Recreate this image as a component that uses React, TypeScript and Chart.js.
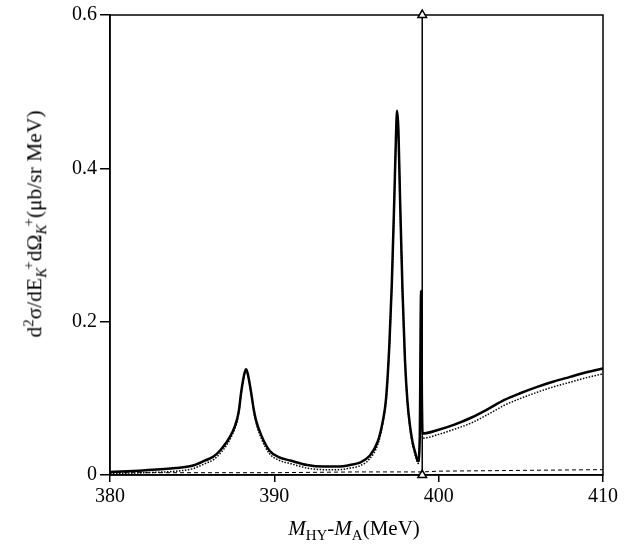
import React, { useEffect, useRef } from "react";
import { Chart, registerables } from "chart.js";

Chart.register(...registerables);

// Solid curve (full calculation)
const solidX = [380, 382, 384, 385, 385.8, 386.3, 386.7, 387.1, 387.45, 387.71, 387.85, 387.97, 388.1, 388.2, 388.28, 388.36, 388.46, 388.6, 388.75, 388.89, 389.2, 389.7, 390.3, 390.96, 392, 393, 394, 394.6, 395.2, 395.8, 396.3, 396.6, 396.8, 397.0, 397.15, 397.3, 397.4, 397.47, 397.55, 397.65, 397.8, 397.95, 398.1, 398.25, 398.4, 398.6, 398.75, 398.85, 398.93, 398.98, 399.02, 400, 401, 402, 403, 404, 405, 406, 407, 408, 409, 410];
const solidY = [0.004, 0.006, 0.009, 0.012, 0.019, 0.024, 0.032, 0.043, 0.056, 0.071, 0.085, 0.106, 0.124, 0.134, 0.138, 0.134, 0.124, 0.106, 0.085, 0.071, 0.052, 0.032, 0.023, 0.019, 0.013, 0.011, 0.011, 0.013, 0.016, 0.025, 0.044, 0.070, 0.100, 0.170, 0.250, 0.360, 0.440, 0.475, 0.450, 0.360, 0.240, 0.150, 0.096, 0.065, 0.044, 0.027, 0.018, 0.050, 0.240, 0.100, 0.054, 0.059, 0.066, 0.075, 0.086, 0.098, 0.107, 0.115, 0.122, 0.128, 0.134, 0.139];

// Dotted curve
const dottedX = [380, 382, 384, 385, 385.8, 386.3, 386.7, 387.1, 387.45, 387.71, 387.85, 387.97, 388.1, 388.2, 388.28, 388.36, 388.46, 388.6, 388.75, 388.89, 389.2, 389.7, 390.3, 390.96, 392, 393, 394, 394.6, 395.2, 395.8, 396.3, 396.6, 396.8, 397.0, 397.15, 397.3, 397.4, 397.47, 397.55, 397.65, 397.8, 397.95, 398.1, 398.25, 398.4, 398.6, 398.75, 398.85, 398.93, 398.98, 399.02, 400, 401, 402, 403, 404, 405, 406, 407, 408, 409, 410];
const dottedY = [0.002, 0.003, 0.005, 0.008, 0.015, 0.020, 0.028, 0.039, 0.053, 0.068, 0.083, 0.104, 0.122, 0.133, 0.137, 0.133, 0.122, 0.104, 0.083, 0.068, 0.048, 0.028, 0.019, 0.015, 0.009, 0.007, 0.007, 0.009, 0.012, 0.021, 0.040, 0.067, 0.097, 0.167, 0.247, 0.357, 0.437, 0.472, 0.447, 0.357, 0.237, 0.147, 0.093, 0.062, 0.041, 0.024, 0.015, 0.045, 0.230, 0.095, 0.048, 0.053, 0.060, 0.068, 0.079, 0.091, 0.100, 0.108, 0.115, 0.121, 0.127, 0.132];

// Dashed curve (background)
const dashedX = [380, 385, 390, 395, 399, 400, 405, 410];
const dashedY = [0.003, 0.003, 0.003, 0.004, 0.004, 0.005, 0.006, 0.007];

// Threshold marker
const thresholdX = [399, 399];
const thresholdY = [0, 0.6];

// Axis ticks
const xMin = 380;
const xMax = 410;
const xStep = 10;
const yMin = 0;
const yMax = 0.6;
const yStep = 0.2;

const zip = (xs: number[], ys: number[]) => xs.map((x, i) => ({ x, y: ys[i] }));

const framePlugin = {
  id: "frame",
  beforeDatasetsDraw(chart: any) {
    const { ctx, chartArea } = chart;
    ctx.save();
    ctx.strokeStyle = "#000";
    ctx.lineWidth = 1.5;
    ctx.strokeRect(chartArea.left, chartArea.top, chartArea.right - chartArea.left, chartArea.bottom - chartArea.top);
    ctx.restore();
  },
};

export default function App() {
  const ref = useRef<HTMLCanvasElement | null>(null);

  useEffect(() => {
    if (!ref.current) return;
    const font = { family: "'Liberation Serif', serif", size: 20 };
    const chart = new Chart(ref.current, {
      type: "line",
      data: {
        datasets: [
          {
            data: zip(dashedX, dashedY),
            borderColor: "#000",
            borderWidth: 1,
            borderDash: [4, 3],
            pointRadius: 0,
            tension: 0,
          },
          {
            data: zip(dottedX, dottedY),
            borderColor: "#000",
            borderWidth: 1.5,
            borderDash: [1.5, 1.5],
            pointRadius: 0,
            cubicInterpolationMode: "monotone",
          },
          {
            data: zip(solidX, solidY),
            borderColor: "#000",
            borderWidth: 2.5,
            pointRadius: 0,
            cubicInterpolationMode: "monotone",
          },
          {
            data: zip(thresholdX, thresholdY),
            borderColor: "#000",
            borderWidth: 1.5,
            pointStyle: "triangle",
            pointRadius: 5,
            pointBackgroundColor: "#fff",
            pointBorderColor: "#000",
            pointBorderWidth: 1.5,
            tension: 0,
            clip: false as any,
          },
        ],
      },
      options: {
        animation: false,
        responsive: true,
        maintainAspectRatio: false,
        layout: { padding: { top: 12, right: 38, left: 0, bottom: 0 } },
        plugins: { legend: { display: false }, tooltip: { enabled: false } },
        scales: {
          x: {
            type: "linear",
            min: xMin,
            max: xMax,
            ticks: { stepSize: xStep, font, color: "#000", padding: 3, maxRotation: 0 },
            grid: { drawOnChartArea: false, drawTicks: true, tickLength: 7, color: "#000", lineWidth: 1.5 },
            border: { display: true, color: "#000", width: 1.5 },
            afterFit: (s: any) => {
              s.height = 72;
            },
          },
          y: {
            type: "linear",
            min: yMin,
            max: yMax,
            ticks: { stepSize: yStep, font, color: "#000", padding: 3 },
            grid: { drawOnChartArea: false, drawTicks: true, tickLength: 10, color: "#000", lineWidth: 1.5 },
            border: { display: true, color: "#000", width: 1.5 },
            afterFit: (s: any) => {
              s.width = 110;
            },
          },
        },
      },
      plugins: [framePlugin],
    });
    return () => chart.destroy();
  }, []);

  const serif = "'Liberation Serif', 'Times New Roman', serif";

  return (
    <div style={{ position: "fixed", left: 0, top: 0, width: 641, height: 547, background: "#fff" }}>
      <canvas ref={ref} style={{ position: "absolute", left: 0, top: 0 }} />
      <div
        style={{
          position: "absolute",
          left: 35,
          top: 224,
          transform: "translate(-50%, -50%) rotate(-90deg)",
          whiteSpace: "nowrap",
          fontFamily: serif,
          fontSize: 21.5,
          color: "#000",
          lineHeight: "24px",
        }}
      >
        d<sup style={{ fontSize: 15 }}>2</sup>σ/dE
        <sub style={{ fontSize: 15, fontStyle: "italic" }}>K</sub>
        <sup style={{ fontSize: 15, marginLeft: -2 }}>+</sup>dΩ
        <sub style={{ fontSize: 15, fontStyle: "italic" }}>K</sub>
        <sup style={{ fontSize: 15, marginLeft: -2 }}>+</sup>(μb/sr MeV)
      </div>
      <div
        style={{
          position: "absolute",
          left: 354,
          top: 516,
          transform: "translateX(-50%)",
          whiteSpace: "nowrap",
          fontFamily: serif,
          fontSize: 21,
          color: "#000",
          lineHeight: "24px",
        }}
      >
        <i>M</i>
        <sub style={{ fontSize: 15 }}>HY</sub>-<i>M</i>
        <sub style={{ fontSize: 15 }}>A</sub>(MeV)
      </div>
    </div>
  );
}
